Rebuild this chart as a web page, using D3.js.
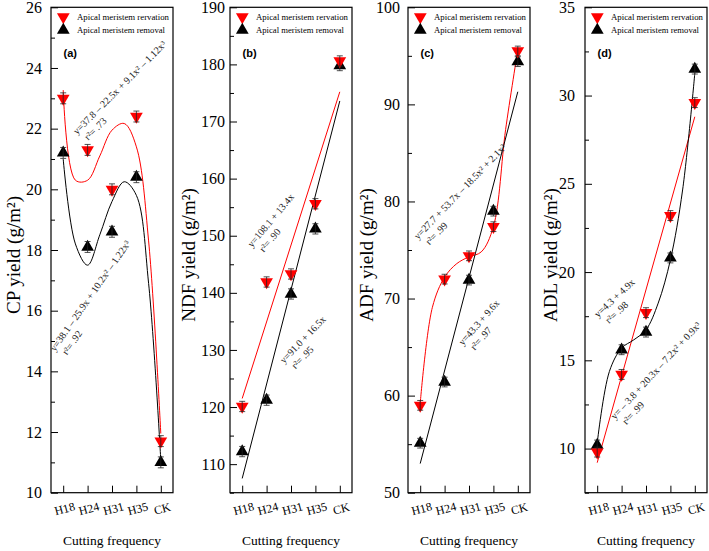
<!DOCTYPE html>
<html><head><meta charset="utf-8">
<script src="https://cdn.jsdelivr.net/npm/d3@7"></script>
<style>body{margin:0;background:#fff} svg{display:block}</style>
</head><body>
<svg id="chart" width="709" height="551"></svg>
<script>
// ---------- DATA ----------
const categories = ["H18", "H24", "H31", "H35", "CK"];
const categoryIndex = [1, 2, 3, 4, 5];
const legendLabels = ["Apical meristem rervation", "Apical meristem removal"];
const xTitle = "Cutting frequency";
const panelLabels = ["(a)", "(b)", "(c)", "(d)"];
const yTitles = ["CP yield (g/m²)", "NDF yield (g/m²)", "ADF yield (g/m²)", "ADL yield (g/m²)"];

// (a) CP
const cpReservation = [23.0, 21.3, 20.0, 22.4, 11.7];
const cpRemoval = [21.2, 18.1, 18.6, 20.4, 11.0];
const cpError = [0.18, 0.18, 0.18, 0.18, 0.18];
// (b) NDF
const ndfReservation = [120.1, 141.9, 143.3, 155.6, 180.6];
const ndfRemoval = [112.2, 121.2, 139.8, 151.2, 179.8];
const ndfError = [0.9, 0.9, 0.9, 0.9, 0.9];
// (c) ADF
const adfReservation = [59.0, 72.0, 74.4, 77.4, 95.5];
const adfRemoval = [55.1, 61.4, 71.9, 79.0, 94.4];
const adfError = [0.5, 0.5, 0.5, 0.5, 0.5];
// (d) ADL
const adlReservation = [9.8, 14.2, 17.7, 23.2, 29.6];
const adlRemoval = [10.2, 15.6, 16.6, 20.8, 31.5];
const adlError = [0.28, 0.28, 0.28, 0.28, 0.28];

// fitted curves
const fitX = [1, 1.5, 2, 2.5, 3, 3.5, 4, 4.5, 5];
const lineX = [1, 5];
const cpReservationFit = [23.27, 20.3, 20.3, 21.1, 21.95, 22.17, 21.4, 18.3, 11.95];
const cpRemovalFit = [21.0, 18.2, 17.5, 18.5, 19.6, 20.25, 19.8, 16.9, 11.07];
const ndfReservationFit = [121.5, 175.2];
const ndfRemovalFit = [107.5, 173.6];
const adfReservationFit = [59.2, 69.1, 72.2, 73.6, 74.3, 74.8, 77.4, 87.4, 95.6];
const adfRemovalFit = [53.0, 91.3];
const adlReservationFit = [9.2, 28.8];
const adlRemovalFit = [10.31, 14.37, 15.69, 16.16, 16.73, 18.24, 20.69, 24.65, 31.26];

// equation labels
const cpReservationEq = ["y=37.8 – 22.5x + 9.1x² – 1.12x³", "r²= .73"];
const cpRemovalEq = ["y=38.1 – 25.9x + 10.2x² – 1.22x³", "r²= .92"];
const ndfReservationEq = ["y=108.1 + 13.4x", "r²= .90"];
const ndfRemovalEq = ["y=91.0 + 16.5x", "r²= .95"];
const adfReservationEq = ["y=27.7 + 53.7x – 18.5x² + 2.1x³", "r²= .99"];
const adfRemovalEq = ["y=43.3 + 9.6x", "r²= .97"];
const adlReservationEq = ["y=4.3 + 4.9x", "r²= .98"];
const adlRemovalEq = ["y= – 3.8 + 20.3x – 7.2x² + 0.9x³", "r²= .99"];

// axis ticks
const cpTicks = [10, 12, 14, 16, 18, 20, 22, 24, 26];
const cpMinor = [11, 13, 15, 17, 19, 21, 23, 25];
const ndfTicks = [110, 120, 130, 140, 150, 160, 170, 180, 190];
const ndfMinor = [105, 115, 125, 135, 145, 155, 165, 175, 185];
const adfTicks = [50, 60, 70, 80, 90, 100];
const adfMinor = [55, 65, 75, 85, 95];
const adlTicks = [10, 15, 20, 25, 30, 35];
const adlMinor = [7.5, 12.5, 17.5, 22.5, 27.5, 32.5];

// ---------- LAYOUT ----------
const RED = "#ff0000", BLACK = "#000000";
const plotTop = 7.3, plotBottom = 492.7, pw = 122;
const panels = [
  { left: 51, domain: [10, 26], ticks: cpTicks, minor: cpMinor, res: cpReservation, rem: cpRemoval, err: cpError,
    resFit: [fitX, cpReservationFit], remFit: [fitX, cpRemovalFit], titleX: 20, pad: 9,
    eqs: [{ t: cpReservationEq, x: 77, y: 135, a: -45 }, { t: cpRemovalEq, x: 55, y: 352, a: -55 }] },
  { left: 230, domain: [105, 190], ticks: ndfTicks, minor: ndfMinor, res: ndfReservation, rem: ndfRemoval, err: ndfError,
    resFit: [lineX, ndfReservationFit], remFit: [lineX, ndfRemovalFit], titleX: 195, pad: 5,
    eqs: [{ t: ndfReservationEq, x: 252, y: 248, a: -50 }, { t: ndfRemovalEq, x: 284, y: 364, a: -46 }] },
  { left: 408, domain: [50, 100], ticks: adfTicks, minor: adfMinor, res: adfReservation, rem: adfRemoval, err: adfError,
    resFit: [fitX, adfReservationFit], remFit: [lineX, adfRemovalFit], titleX: 373, pad: 8,
    eqs: [{ t: adfReservationEq, x: 418, y: 240, a: -46 }, { t: adfRemovalEq, x: 463, y: 346, a: -49 }] },
  { left: 585, domain: [7.5, 35], ticks: adlTicks, minor: adlMinor, res: adlReservation, rem: adlRemoval, err: adlError,
    resFit: [lineX, adlReservationFit], remFit: [fitX, adlRemovalFit], titleX: 557, pad: 10,
    eqs: [{ t: adlReservationEq, x: 598, y: 318, a: -43 }, { t: adlRemovalEq, x: 615, y: 420, a: -47.5 }] }
];

const svg = d3.select("#chart");
const serif = "'Liberation Serif','Times New Roman',serif";
const sans = "'Liberation Sans',Arial,sans-serif";
const triSym = d3.symbol(d3.symbolTriangle, 70);

panels.forEach((p, pi) => {
  const x = d3.scaleLinear().domain([0.5, 5.5]).range([p.left, p.left + pw]);
  const y = d3.scaleLinear().domain(p.domain).range([plotBottom, plotTop]);
  const g = svg.append("g");

  // minor ticks
  g.append("g").attr("transform", `translate(${p.left},0)`)
    .call(d3.axisLeft(y).tickValues(p.minor).tickSize(-4).tickFormat(""))
    .call(s => s.select(".domain").remove())
    .call(s => s.selectAll("line").attr("stroke", "#000"));
  // major ticks
  g.append("g").attr("transform", `translate(${p.left},0)`)
    .call(d3.axisLeft(y).tickValues(p.ticks).tickSize(-7).tickPadding(p.pad).tickFormat(d3.format("d")))
    .call(s => s.select(".domain").remove())
    .call(s => s.selectAll("line").attr("stroke", "#000"))
    .call(s => s.selectAll("text").attr("font-family", serif).attr("font-size", 16).attr("fill", "#000"));
  // x axis
  g.append("g").attr("transform", `translate(0,${plotBottom})`)
    .call(d3.axisBottom(x).tickValues(categoryIndex).tickSize(-7).tickFormat(i => categories[i - 1]))
    .call(s => s.select(".domain").remove())
    .call(s => s.selectAll("line").attr("stroke", "#000"))
    .call(s => s.selectAll("text").attr("font-family", serif).attr("font-size", 12).attr("fill", "#000")
      .attr("y", 0).attr("dy", 0).attr("text-anchor", "middle")
      .attr("transform", "translate(2,20) rotate(-15)"));
  // frame
  g.append("rect").attr("x", p.left).attr("y", plotTop).attr("width", pw).attr("height", plotBottom - plotTop)
    .attr("fill", "none").attr("stroke", "#000").attr("stroke-width", 1.2);

  // axis titles
  g.append("text").attr("transform", `translate(${p.titleX},255) rotate(-90)`)
    .attr("text-anchor", "middle").attr("font-family", serif).attr("font-size", 19).text(yTitles[pi]);
  g.append("text").attr("x", p.left + pw / 2).attr("y", 545).attr("text-anchor", "middle")
    .attr("font-family", serif).attr("font-size", 13.5).text(xTitle);

  // fit curves
  const line = d3.line().x(d => x(d[0])).y(d => y(d[1])).curve(d3.curveCatmullRom.alpha(0.5));
  [[p.resFit, RED], [p.remFit, BLACK]].forEach(([f, c]) => {
    g.append("path").datum(f[0].map((v, i) => [v, f[1][i]])).attr("d", line)
      .attr("fill", "none").attr("stroke", c).attr("stroke-width", 1);
  });

  // markers
  const drawSeries = (vals, color, isDown) => {
    const sg = g.append("g");
    vals.forEach((v, i) => {
      sg.append("path").attr("d", triSym())
        .attr("transform", `translate(${x(categoryIndex[i])},${y(v)})${isDown ? " rotate(180)" : ""}`)
        .attr("fill", color);
      const e = p.err[i], cx = x(categoryIndex[i]);
      sg.append("line").attr("x1", cx).attr("x2", cx).attr("y1", y(v - e)).attr("y2", y(v + e))
        .attr("stroke", "#222").attr("stroke-width", 0.8);
      [v - e, v + e].forEach(w => sg.append("line").attr("x1", cx - 3).attr("x2", cx + 3)
        .attr("y1", y(w)).attr("y2", y(w)).attr("stroke", "#222").attr("stroke-width", 0.8));
    });
  };
  drawSeries(p.rem, BLACK, false);
  drawSeries(p.res, RED, true);

  // legend
  const lx = p.left + 12.3;
  g.append("path").attr("d", triSym()).attr("transform", `translate(${lx},17) rotate(180)`).attr("fill", RED);
  g.append("path").attr("d", triSym()).attr("transform", `translate(${lx},30)`).attr("fill", BLACK);
  g.append("text").attr("x", p.left + 26).attr("y", 20).attr("font-family", serif).attr("font-size", 9)
    .attr("textLength", 92).attr("lengthAdjust", "spacingAndGlyphs").text(legendLabels[0]);
  g.append("text").attr("x", p.left + 26).attr("y", 32.5).attr("font-family", serif).attr("font-size", 9)
    .attr("textLength", 88).attr("lengthAdjust", "spacingAndGlyphs").text(legendLabels[1]);

  // panel label
  g.append("text").attr("x", p.left + 12.5).attr("y", 57).attr("font-family", sans).attr("font-weight", "bold")
    .attr("font-size", 11).text(panelLabels[pi]);

  // equations
  p.eqs.forEach(eq => {
    const tg = g.append("g").attr("transform", `translate(${eq.x},${eq.y}) rotate(${eq.a})`)
      .attr("font-family", serif).attr("font-size", 10).attr("fill", "#222");
    tg.append("text").attr("x", 0).attr("y", 0).text(eq.t[0]);
    tg.append("text").attr("x", 4).attr("y", 12).text(eq.t[1]);
  });
});
</script>
</body></html>
